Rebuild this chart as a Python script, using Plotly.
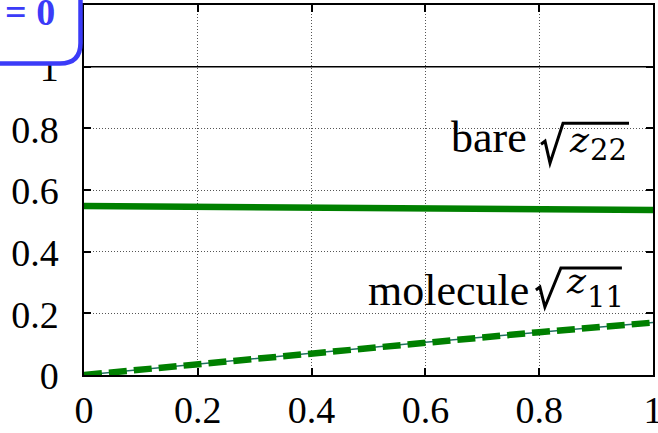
import plotly.graph_objects as go

# data
x_vals = [0.0, 0.2, 0.4, 0.6, 0.8, 1.0]
bare_z22 = [0.548, 0.546, 0.543, 0.540, 0.537, 0.535]
molecule_z11 = [0.0, 0.036, 0.072, 0.106, 0.139, 0.170]
x_ticks = [0, 0.2, 0.4, 0.6, 0.8, 1]
x_tick_text = ["0", "0.2", "0.4", "0.6", "0.8", "1"]
y_ticks = [0, 0.2, 0.4, 0.6, 0.8, 1]
y_tick_text = ["0", "0.2", "0.4", "0.6", "0.8", "1"]
upper_ref = 1.0

GREEN = "#008000"
BLUE = "#3b3bf8"
FONT = "Liberation Serif, Times New Roman, serif"
MATH_FONT = "DejaVu Serif, serif"

fig = go.Figure()
fig.add_trace(go.Scatter(x=x_vals, y=molecule_z11, mode="lines",
                         line=dict(color="#1f6f5f", width=1.5), showlegend=False))
fig.add_trace(go.Scatter(x=x_vals, y=molecule_z11, mode="lines",
                         line=dict(color=GREEN, width=6.5, dash="18px,7px"), showlegend=False))
fig.add_trace(go.Scatter(x=x_vals, y=bare_z22, mode="lines",
                         line=dict(color=GREEN, width=6.5), showlegend=False))

fig.add_shape(type="line", xref="paper", yref="y", x0=0, x1=1, y0=upper_ref, y1=upper_ref,
              line=dict(color="black", width=1.5), layer="above")

# blue rounded box (top-left, partly off page)
fig.add_shape(type="path", xref="paper", yref="paper", xanchor=0, yanchor=1,
              xsizemode="pixel", ysizemode="pixel",
              path="M -120,20 L -3.5,20 L -3.5,-38 Q -3.5,-58.5 -24,-58.5 L -120,-58.5 Z",
              fillcolor="white", line=dict(color=BLUE, width=4.5), layer="above")

fig.add_annotation(text="<b>= 0</b>", xref="paper", yref="paper", x=0, y=1,
                   xshift=-27, yshift=-7, xanchor="right", yanchor="middle",
                   showarrow=False, font=dict(family=FONT, size=38, color=BLUE))

# curve labels: word, radical sign, italic z and subscript (anchored at the radical's foot)
labels = [
    dict(word="bare", sub="22", ax=0.819, ay=0.687,
         word_shift=(-21, 26), z_shift=(17, 23.5), sub_shift=(38, 13),
         radical="M -9,19 L -5,22 L 0,0 L 13,40 L 79,40"),
    dict(word="molecule", sub="11", ax=0.810, ay=0.2204,
         word_shift=(-14, 17), z_shift=(19, 26.5), sub_shift=(40, 10),
         radical="M -9,17 L -5,20 L 0,0 L 16,39 L 77,39"),
]
for lab in labels:
    fig.add_annotation(text=lab["word"], x=lab["ax"], y=lab["ay"], xanchor="right", yanchor="middle",
                       xshift=lab["word_shift"][0], yshift=lab["word_shift"][1], showarrow=False,
                       font=dict(family=FONT, size=44, color="black"))
    fig.add_annotation(text="<i>z</i>", x=lab["ax"], y=lab["ay"], xanchor="left", yanchor="middle",
                       xshift=lab["z_shift"][0], yshift=lab["z_shift"][1], showarrow=False,
                       font=dict(family=MATH_FONT, size=36, color="black"))
    fig.add_annotation(text=lab["sub"], x=lab["ax"], y=lab["ay"], xanchor="left", yanchor="middle",
                       xshift=lab["sub_shift"][0], yshift=lab["sub_shift"][1], showarrow=False,
                       font=dict(family=MATH_FONT, size=29, color="black"))
    fig.add_shape(type="path", xref="x", yref="y", xanchor=lab["ax"], yanchor=lab["ay"],
                  xsizemode="pixel", ysizemode="pixel", path=lab["radical"],
                  line=dict(color="black", width=3), layer="above")

axis_common = dict(showline=True, linecolor="black", linewidth=1.5, mirror="ticks",
                   ticks="inside", ticklen=7, tickwidth=1.5, tickcolor="black",
                   showgrid=True, gridcolor="#555555", griddash="1px,2px", gridwidth=1,
                   zeroline=False, automargin=False, ticklabeloverflow="allow",
                   tickfont=dict(family=FONT, size=38, color="black"))

fig.update_xaxes(range=[0, 1], tickvals=x_ticks, ticktext=x_tick_text,
                 ticklabelstandoff=1, **axis_common)
fig.update_yaxes(range=[0, 1.2], tickvals=y_ticks, ticktext=y_tick_text,
                 ticklabelstandoff=16, ticklabelshift=1, **axis_common)

fig.update_layout(width=658, height=433, template="none",
                  margin=dict(l=84, r=5, t=5, b=58),
                  paper_bgcolor="white", plot_bgcolor="white")

fig.write_html("out.html")
